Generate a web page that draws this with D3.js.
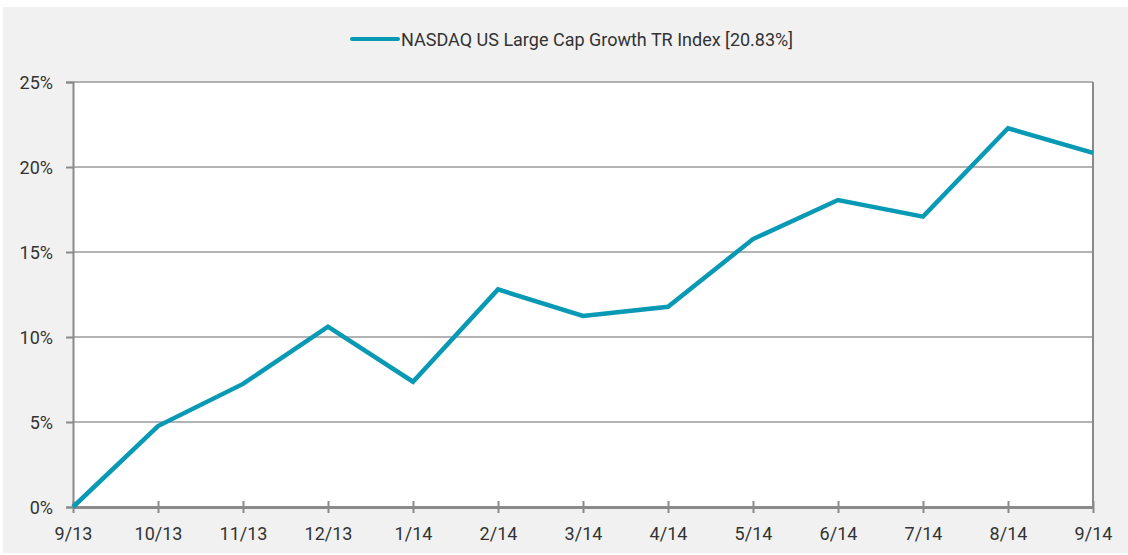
<!DOCTYPE html>
<html>
<head>
<meta charset="utf-8">
<script src="https://cdn.jsdelivr.net/npm/d3@7"></script>
<style>
  body { margin: 0; background: #fff; }
  text { font-family: Roboto, "DejaVu Sans Condensed", sans-serif; fill: #333; }
</style>
</head>
<body>
<div id="chart"></div>
<script>
// chart data
const months = ["9/13", "10/13", "11/13", "12/13", "1/14", "2/14", "3/14",
                "4/14", "5/14", "6/14", "7/14", "8/14", "9/14"];
const growthReturns = [0, 4.76, 7.24, 10.61, 7.37, 12.80, 11.24,
                       11.78, 15.76, 18.06, 17.08, 22.28, 20.83];
const yTicks = [0, 5, 10, 15, 20, 25];
const seriesName = "NASDAQ US Large Cap Growth TR Index [20.83%]";

const W = 1128, H = 555;
const margin = { top: 82, right: 35, bottom: 48, left: 73 };
const width = W - margin.left - margin.right;
const height = H - margin.top - margin.bottom;
const lineColor = "#0899b4";

const svg = d3.select("#chart").append("svg")
    .attr("width", W)
    .attr("height", H);

// grey panel behind everything
svg.append("rect")
    .attr("x", 3).attr("y", 7)
    .attr("width", W - 3).attr("height", H - 9)
    .attr("fill", "#f1f1f1");

const g = svg.append("g")
    .attr("transform", "translate(" + margin.left + "," + margin.top + ")");

const x = d3.scalePoint().domain(months).range([0, width]);
const y = d3.scaleLinear().domain([0, 25]).range([height, 0]);

// plot area
g.append("rect")
    .attr("width", width).attr("height", height)
    .attr("fill", "#fff");

// gridlines
g.selectAll(".grid")
  .data(yTicks.filter(d => d > 0))
  .enter().append("line")
    .attr("x1", 0).attr("x2", width)
    .attr("y1", d => y(d)).attr("y2", d => y(d))
    .attr("stroke", "#9a9a9a")
    .attr("stroke-width", 1.5);

// right border
g.append("line")
    .attr("x1", width).attr("x2", width)
    .attr("y1", 0).attr("y2", height)
    .attr("stroke", "#8a8a8a").attr("stroke-width", 2);

// y axis
const yAxis = g.append("g")
    .call(d3.axisLeft(y).tickValues(yTicks).tickFormat(d => d + "%").tickSize(7).tickPadding(13));
yAxis.select(".domain").attr("stroke", "#8a8a8a").attr("stroke-width", 2);
yAxis.selectAll(".tick line").attr("stroke", "#8a8a8a").attr("stroke-width", 2);
yAxis.selectAll(".tick text")
    .attr("font-size", 18).attr("fill", "#333").attr("dy", "0.38em")
    .style("font-family", "Roboto, sans-serif");

// x axis, ticks crossing the axis line
const xAxis = g.append("g")
    .attr("transform", "translate(0," + height + ")")
    .call(d3.axisBottom(x).tickSize(6).tickPadding(14).tickSizeOuter(0));
xAxis.select(".domain").attr("stroke", "#8a8a8a").attr("stroke-width", 3);
xAxis.selectAll(".tick line")
    .attr("y1", -6).attr("y2", 6)
    .attr("stroke", "#8a8a8a").attr("stroke-width", 2);
xAxis.selectAll(".tick text")
    .attr("font-size", 18).attr("fill", "#333")
    .style("font-family", "Roboto, sans-serif");

// series line
const line = d3.line()
    .x((d, i) => x(months[i]))
    .y(d => y(d));

g.append("path")
    .datum(growthReturns)
    .attr("d", line)
    .attr("fill", "none")
    .attr("stroke", lineColor)
    .attr("stroke-width", 4.5)
    .attr("stroke-linejoin", "miter");

// legend
const legend = svg.append("g").attr("transform", "translate(352,39)");
legend.append("line")
    .attr("x1", 0).attr("x2", 46)
    .attr("stroke", lineColor).attr("stroke-width", 4)
    .attr("stroke-linecap", "round");
legend.append("text")
    .attr("x", 49).attr("y", 7)
    .attr("font-size", 18)
    .text(seriesName);
</script>
</body>
</html>
